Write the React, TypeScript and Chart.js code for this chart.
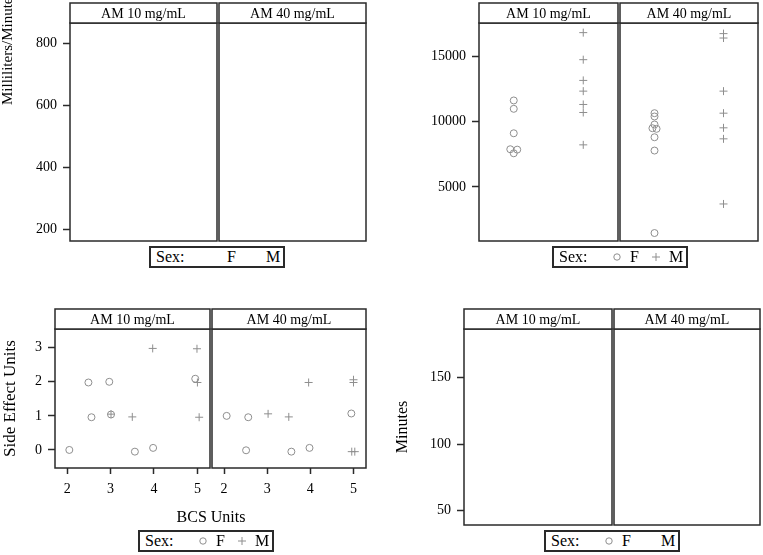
import React, { useEffect, useRef } from 'react';
import { Chart, registerables } from 'chart.js';

Chart.register(...registerables);

const FONT = "Liberation Serif, DejaVu Serif, serif";
const GRAY = '#8e8e8e';
const INK = '#2a2a2a';

// ---------- shared categories ----------
const facetLabels = ['AM 10 mg/mL', 'AM 40 mg/mL'];
const sexLevels = ['F', 'M'];

// ---------- panel A (top-left): Milliliters/Minute, no observations ----------
const aRange = [164, 865];
const aTicks = [200, 400, 600, 800];
const aF10x: number[] = [];
const aF10y: number[] = [];
const aM10x: number[] = [];
const aM10y: number[] = [];
const aF40x: number[] = [];
const aF40y: number[] = [];
const aM40x: number[] = [];
const aM40y: number[] = [];

// ---------- panel B (top-right) ----------
const bRange = [865, 17530];
const bTicks = [5000, 10000, 15000];
const bF10x = [1, 1, 1, 0.95, 1.05, 1];
const bF10y = [11609, 10970, 9100, 7880, 7850, 7570];
const bM10x = [2, 2, 2, 2, 2, 2, 2];
const bM10y = [16794, 14726, 13141, 12321, 11302, 10689, 8215];
const bF40x = [1, 1, 1, 0.97, 1.03, 1, 1, 1];
const bF40y = [10636, 10383, 9770, 9487, 9440, 8797, 7779, 1474];
const bM40x = [2, 2, 2, 2, 2, 2, 2];
const bM40y = [16718, 16381, 12321, 10636, 9517, 8675, 3696];

// ---------- panel C (bottom-left): Side Effect Units vs BCS Units ----------
const cXRange = [1.72, 5.29];
const cYRange = [-0.53, 3.55];
const cXTicks = [2, 3, 4, 5];
const cYTicks = [0, 1, 2, 3];
const cF10x = [2.05, 2.49, 2.56, 2.97, 3.01, 3.56, 3.98, 4.95];
const cF10y = [0, 1.98, 0.96, 2.0, 1.04, -0.05, 0.06, 2.09];
const cM10x = [3.01, 3.5, 3.97, 4.99, 5.0, 5.04];
const cM10y = [1.05, 0.97, 2.98, 2.97, 1.98, 0.96];
const cF40x = [2.06, 2.56, 2.51, 3.56, 3.98, 4.95];
const cF40y = [1.0, 0.96, -0.01, -0.05, 0.06, 1.07];
const cM40x = [3.02, 3.5, 3.96, 5.0, 5.0, 4.96, 5.03];
const cM40y = [1.06, 0.97, 1.98, 2.06, 1.98, -0.05, -0.05];

// ---------- panel D (bottom-right): Minutes, no observations ----------
const dRange = [39.2, 186.6];
const dTicks = [50, 100, 150];
const dF10x: number[] = [];
const dF10y: number[] = [];
const dM10x: number[] = [];
const dM10y: number[] = [];
const dF40x: number[] = [];
const dF40y: number[] = [];
const dM40x: number[] = [];
const dM40y: number[] = [];

const sexRange = [0.5, 2.5];

type Series = { x: number[]; y: number[]; shape: 'circle' | 'cross' };

const framePlugin = {
  id: 'facetFrame',
  afterDatasetsDraw(chart: any, _args: any, opts: any) {
    const { ctx, chartArea: a } = chart;
    const sh = 20;
    ctx.save();
    ctx.strokeStyle = INK;
    ctx.lineWidth = 1.5;
    ctx.strokeRect(a.left, a.top, a.right - a.left, a.bottom - a.top);
    ctx.fillStyle = '#fff';
    ctx.fillRect(a.left, a.top - sh, a.right - a.left, sh);
    ctx.strokeRect(a.left, a.top - sh, a.right - a.left, sh);
    ctx.fillStyle = '#000';
    ctx.font = `14px ${FONT}`;
    ctx.textAlign = 'center';
    ctx.textBaseline = 'middle';
    ctx.fillText(opts.label, (a.left + a.right) / 2, a.top - sh / 2 + 1);
    ctx.restore();
  },
};

type FacetProps = {
  box: number[]; // left, top, width, height
  pad: number[]; // left, top, right, bottom
  yAxisWidth: number;
  xAxisHeight: number;
  xRange: number[];
  yRange: number[];
  xTicks: number[];
  yTicks: number[];
  yTitle?: string;
  yTitleSize?: number;
  yTitlePad?: number;
  strip: string;
  series: Series[];
};

function Facet(p: FacetProps) {
  const ref = useRef<HTMLCanvasElement>(null);
  useEffect(() => {
    const chart = new Chart(ref.current as HTMLCanvasElement, {
      type: 'scatter',
      data: {
        datasets: p.series.map((s) => ({
          data: s.x.map((v, i) => ({ x: v, y: s.y[i] })),
          pointStyle: s.shape,
          pointRadius: s.shape === 'circle' ? 3.5 : 4,
          borderColor: GRAY,
          backgroundColor: 'rgba(0,0,0,0)',
          borderWidth: 1,
          showLine: false,
        })),
      },
      options: {
        animation: false,
        responsive: false,
        maintainAspectRatio: false,
        events: [],
        layout: { padding: { left: p.pad[0], top: p.pad[1], right: p.pad[2], bottom: p.pad[3] } },
        plugins: {
          legend: { display: false },
          tooltip: { enabled: false },
          facetFrame: { label: p.strip },
        } as any,
        scales: {
          x: {
            type: 'linear',
            position: 'bottom',
            min: p.xRange[0],
            max: p.xRange[1],
            display: p.xAxisHeight > 0,
            afterBuildTicks: (s: any) => {
              s.ticks = p.xTicks.map((v) => ({ value: v }));
            },
            afterFit: (s: any) => {
              s.height = p.xAxisHeight;
              s.paddingLeft = 0;
              s.paddingRight = 0;
              s.paddingTop = 0;
              s.paddingBottom = 0;
            },
            grid: { drawOnChartArea: false, drawTicks: true, tickLength: 6, tickWidth: 1.5, tickColor: INK },
            border: { display: false },
            ticks: {
              color: '#000',
              font: { family: FONT, size: 14 },
              padding: 7,
              maxRotation: 0,
              autoSkip: false,
              callback: (v: any) => String(v),
            },
          },
          y: {
            type: 'linear',
            position: 'left',
            min: p.yRange[0],
            max: p.yRange[1],
            display: p.yAxisWidth > 0,
            afterBuildTicks: (s: any) => {
              s.ticks = p.yTicks.map((v) => ({ value: v }));
            },
            afterFit: (s: any) => {
              s.width = p.yAxisWidth;
              s.paddingLeft = 0;
              s.paddingRight = 0;
              s.paddingTop = 0;
              s.paddingBottom = 0;
            },
            grid: { drawOnChartArea: false, drawTicks: true, tickLength: 7, tickWidth: 1.5, tickColor: INK },
            border: { display: false },
            ticks: {
              color: '#000',
              font: { family: FONT, size: 14 },
              padding: 6,
              autoSkip: false,
              callback: (v: any) => String(v),
            },
            title: {
              display: !!p.yTitle,
              text: p.yTitle || '',
              color: '#000',
              font: { family: FONT, size: p.yTitleSize || 16 },
              padding: { top: p.yTitlePad || 0, bottom: 0 },
            },
          },
        },
      } as any,
      plugins: [framePlugin as any],
    });
    return () => chart.destroy();
  }, []);
  return (
    <canvas
      ref={ref}
      width={p.box[2]}
      height={p.box[3]}
      style={{ position: 'absolute', left: p.box[0], top: p.box[1] }}
    />
  );
}

function SexLegend({ left, top, symbols }: { left: number; top: number; symbols: boolean[] }) {
  return (
    <div
      style={{
        position: 'absolute',
        left,
        top,
        width: 136,
        height: 22,
        boxSizing: 'border-box',
        border: `2px solid ${INK}`,
        fontFamily: FONT,
        fontSize: 16,
        color: '#000',
        background: '#fff',
      }}
    >
      <span style={{ position: 'absolute', left: 5, top: 0, lineHeight: '18px' }}>Sex:</span>
      {sexLevels.map((lvl, i) => (
        <React.Fragment key={lvl}>
          {symbols[i] && (
            <svg
              width="10"
              height="10"
              style={{ position: 'absolute', left: 58 + i * 39, top: 4 }}
            >
              {i === 0 ? (
                <circle cx="5" cy="5" r="3.2" fill="none" stroke={GRAY} strokeWidth="1" />
              ) : (
                <path d="M1 5 H9 M5 1 V9" stroke={GRAY} strokeWidth="1" fill="none" />
              )}
            </svg>
          )}
          <span style={{ position: 'absolute', left: 76 + i * 39, top: 0, lineHeight: '18px' }}>{lvl}</span>
        </React.Fragment>
      ))}
    </div>
  );
}

export default function App() {
  const circ = 'circle' as const;
  const cross = 'cross' as const;
  return (
    <div style={{ position: 'absolute', left: 0, top: 0, width: 763, height: 555, background: '#fff', overflow: 'hidden' }}>
      {/* Panel A */}
      <Facet
        box={[0, 0, 222, 246]}
        pad={[0, 23, 5, 5]}
        yAxisWidth={70}
        xAxisHeight={0}
        xRange={sexRange}
        yRange={aRange}
        xTicks={[]}
        yTicks={aTicks}
        strip={facetLabels[0]}
        series={[
          { x: aF10x, y: aF10y, shape: circ },
          { x: aM10x, y: aM10y, shape: cross },
        ]}
      />
      <Facet
        box={[214, 0, 156, 246]}
        pad={[5, 23, 4, 5]}
        yAxisWidth={0}
        xAxisHeight={0}
        xRange={sexRange}
        yRange={aRange}
        xTicks={[]}
        yTicks={aTicks}
        strip={facetLabels[1]}
        series={[
          { x: aF40x, y: aF40y, shape: circ },
          { x: aM40x, y: aM40y, shape: cross },
        ]}
      />
      <div
        style={{
          position: 'absolute',
          left: 0,
          top: 105,
          transform: 'rotate(-90deg)',
          transformOrigin: '0 0',
          whiteSpace: 'nowrap',
          fontFamily: FONT,
          fontSize: 15,
          lineHeight: '15px',
          color: '#000',
        }}
      >
        Milliliters/Minute
      </div>
      <SexLegend left={149} top={246} symbols={[false, false]} />

      {/* Panel B */}
      <Facet
        box={[380, 0, 243, 246]}
        pad={[0, 23, 5, 5]}
        yAxisWidth={99}
        xAxisHeight={0}
        xRange={sexRange}
        yRange={bRange}
        xTicks={[]}
        yTicks={bTicks}
        strip={facetLabels[0]}
        series={[
          { x: bF10x, y: bF10y, shape: circ },
          { x: bM10x, y: bM10y, shape: cross },
        ]}
      />
      <Facet
        box={[615, 0, 148, 246]}
        pad={[5, 23, 3, 5]}
        yAxisWidth={0}
        xAxisHeight={0}
        xRange={sexRange}
        yRange={bRange}
        xTicks={[]}
        yTicks={bTicks}
        strip={facetLabels[1]}
        series={[
          { x: bF40x, y: bF40y, shape: circ },
          { x: bM40x, y: bM40y, shape: cross },
        ]}
      />
      <SexLegend left={552} top={246} symbols={[true, true]} />

      {/* Panel C */}
      <Facet
        box={[0, 300, 215, 205]}
        pad={[0, 29, 5, 0]}
        yAxisWidth={55}
        xAxisHeight={37}
        xRange={cXRange}
        yRange={cYRange}
        xTicks={cXTicks}
        yTicks={cYTicks}
        yTitle="Side Effect Units"
        yTitleSize={17}
        yTitlePad={0}
        strip={facetLabels[0]}
        series={[
          { x: cF10x, y: cF10y, shape: circ },
          { x: cM10x, y: cM10y, shape: cross },
        ]}
      />
      <Facet
        box={[207, 300, 164, 205]}
        pad={[5, 29, 4, 0]}
        yAxisWidth={0}
        xAxisHeight={37}
        xRange={cXRange}
        yRange={cYRange}
        xTicks={cXTicks}
        yTicks={cYTicks}
        strip={facetLabels[1]}
        series={[
          { x: cF40x, y: cF40y, shape: circ },
          { x: cM40x, y: cM40y, shape: cross },
        ]}
      />
      <div
        style={{
          position: 'absolute',
          left: 211,
          top: 517,
          transform: 'translate(-50%, -50%)',
          whiteSpace: 'nowrap',
          fontFamily: FONT,
          fontSize: 16,
          color: '#000',
        }}
      >
        BCS Units
      </div>
      <SexLegend left={138} top={530} symbols={[true, true]} />

      {/* Panel D */}
      <Facet
        box={[380, 300, 237, 230]}
        pad={[0, 29, 5, 5]}
        yAxisWidth={84}
        xAxisHeight={0}
        xRange={sexRange}
        yRange={dRange}
        xTicks={[]}
        yTicks={dTicks}
        yTitle="Minutes"
        yTitleSize={16}
        yTitlePad={13}
        strip={facetLabels[0]}
        series={[
          { x: dF10x, y: dF10y, shape: circ },
          { x: dM10x, y: dM10y, shape: cross },
        ]}
      />
      <Facet
        box={[609, 300, 154, 230]}
        pad={[5, 29, 3, 5]}
        yAxisWidth={0}
        xAxisHeight={0}
        xRange={sexRange}
        yRange={dRange}
        xTicks={[]}
        yTicks={dTicks}
        strip={facetLabels[1]}
        series={[
          { x: dF40x, y: dF40y, shape: circ },
          { x: dM40x, y: dM40y, shape: cross },
        ]}
      />
      <SexLegend left={544} top={530} symbols={[true, false]} />
    </div>
  );
}
